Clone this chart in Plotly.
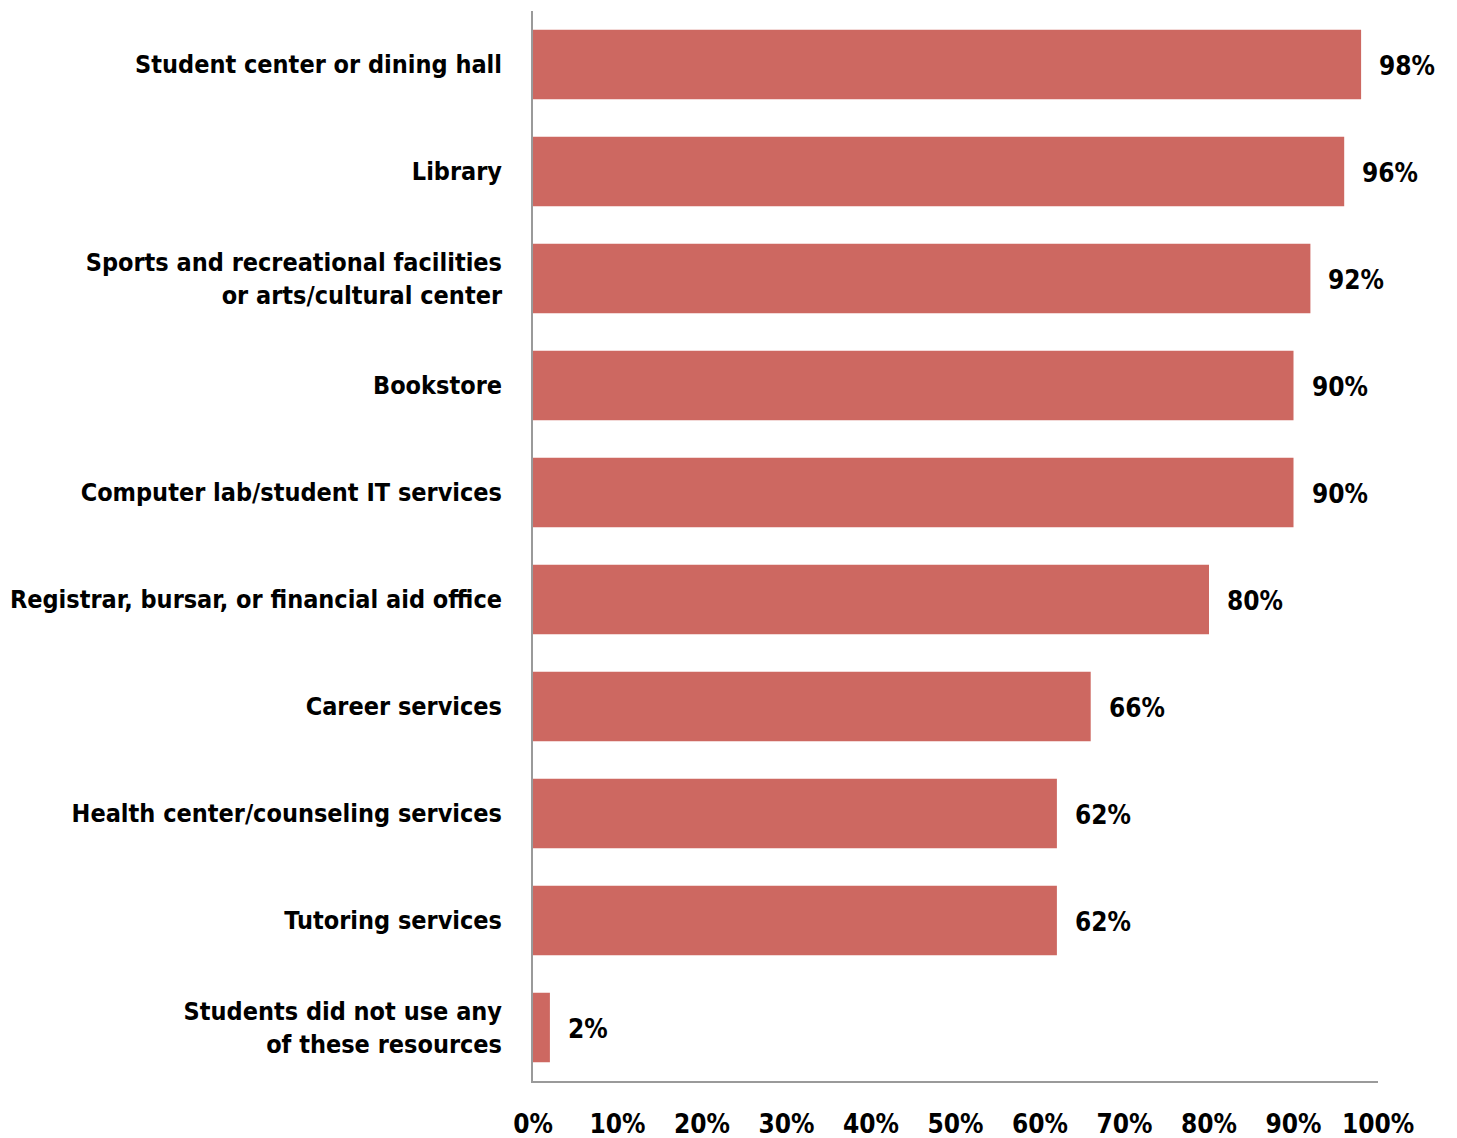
import plotly.graph_objects as go

# Campus resources used by students (share of respondents)
categories = [
    "Student center or dining hall",
    "Library",
    "Sports and recreational facilities<br>or arts/cultural center",
    "Bookstore",
    "Computer lab/student IT services",
    "Registrar, bursar, or financial aid office",
    "Career services",
    "Health center/counseling services",
    "Tutoring services",
    "Students did not use any<br>of these resources",
]
values = [98, 96, 92, 90, 90, 80, 66, 62, 62, 2]
tick_values = [0, 10, 20, 30, 40, 50, 60, 70, 80, 90, 100]
tick_labels = [f"{v}%" for v in tick_values]

FONT = "DejaVu Sans Condensed, DejaVu Sans, sans-serif"
BAR_COLOR = "#CD6861"
AXIS_COLOR = "#9a9a9a"
label_font = dict(family=FONT, size=26, color="#000000", weight="bold")
category_font = dict(family=FONT, size=25, color="#000000", weight="bold")

fig = go.Figure(
    go.Bar(
        x=values,
        y=categories,
        orientation="h",
        marker=dict(color=BAR_COLOR, line=dict(width=0)),
        hoverinfo="skip",
    )
)

# value labels just past the end of each bar
for cat, val in zip(categories, values):
    fig.add_annotation(
        x=val,
        y=cat,
        text=f"{val}%",
        showarrow=False,
        xanchor="left",
        xshift=16,
        yshift=-1,
        font=label_font,
    )

fig.update_layout(
    width=1457,
    height=1138,
    margin=dict(l=533, r=79, t=11, b=57),
    paper_bgcolor="white",
    plot_bgcolor="white",
    bargap=0.35,
    showlegend=False,
    font=label_font,
)

fig.update_xaxes(
    range=[0, 100],
    tickvals=tick_values,
    ticktext=tick_labels,
    showgrid=False,
    zeroline=False,
    showline=True,
    linecolor=AXIS_COLOR,
    linewidth=2,
    ticks="",
    automargin=False,
    ticklabelstandoff=19,
    tickfont=label_font,
)

fig.update_yaxes(
    categoryorder="array",
    categoryarray=categories,
    autorange="reversed",
    showgrid=False,
    zeroline=False,
    showline=True,
    linecolor=AXIS_COLOR,
    linewidth=2,
    ticks="",
    automargin=False,
    ticklabelstandoff=24,
    tickfont=category_font,
)

fig.write_html("out.html")
